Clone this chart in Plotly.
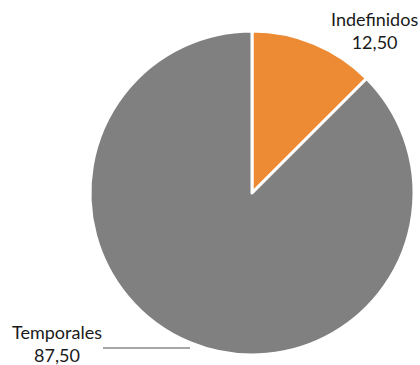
import plotly.graph_objects as go

labels = ["Indefinidos", "Temporales"]
values = [12.50, 87.50]
colors = ["#ED8B34", "#808080"]

W, H = 420, 365
cx, cy, r = 252, 193, 162

fig = go.Figure(go.Pie(
    labels=labels,
    values=values,
    sort=False,
    direction="clockwise",
    rotation=0,
    marker=dict(colors=colors, line=dict(color="white", width=3)),
    textinfo="none",
    hoverinfo="label+value",
    domain=dict(x=[(cx - r) / W, (cx + r) / W], y=[(H - cy - r) / H, (H - cy + r) / H]),
    showlegend=False,
))

def fmt(v):
    return f"{v:.2f}".replace(".", ",")

label_pos = {"Indefinidos": (374, 30), "Temporales": (57, 343)}
for lab, val in zip(labels, values):
    x, y = label_pos[lab]
    fig.add_annotation(
        x=x / W, y=1 - y / H, xref="paper", yref="paper",
        text=f"{lab}<br>{fmt(val)}", showarrow=False,
        font=dict(family="Lato", size=18, color="#1a1a1a"),
        align="center", xanchor="center", yanchor="middle",
    )

fig.add_shape(type="line", xref="paper", yref="paper",
              x0=103 / W, x1=190 / W, y0=1 - 348 / H, y1=1 - 348 / H,
              line=dict(color="#A6A6A6", width=2))

fig.update_layout(
    width=W, height=H,
    margin=dict(l=0, r=0, t=0, b=0),
    paper_bgcolor="white",
    plot_bgcolor="white",
)

fig.write_html("out.html", config={"displayModeBar": False},
               post_script="document.body.style.margin='0';document.body.style.overflow='hidden';")
